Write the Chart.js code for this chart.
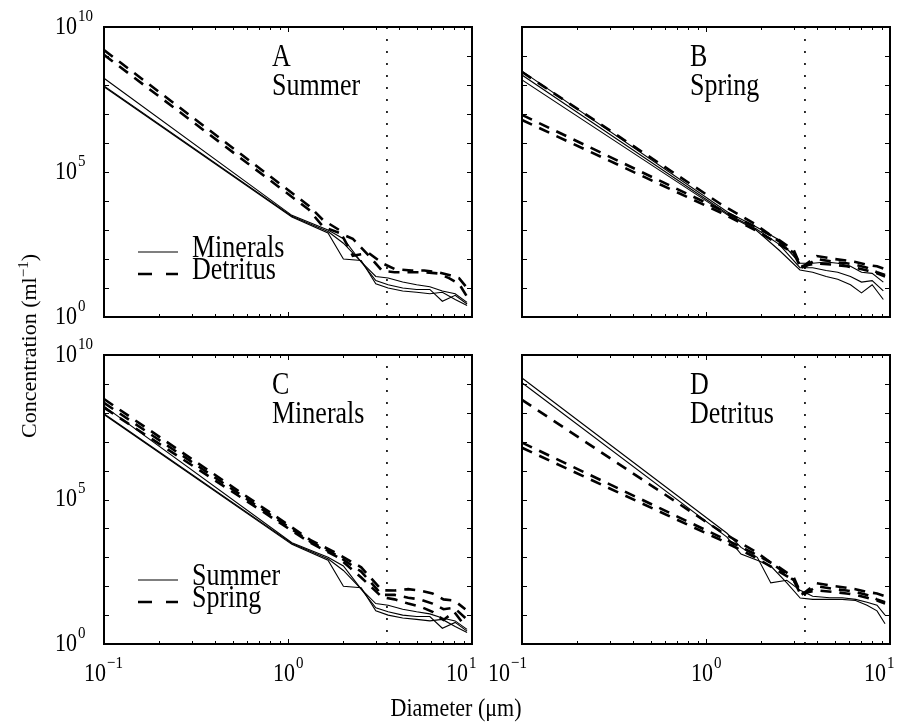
<!DOCTYPE html>
<html lang="en">
<head>
<meta charset="utf-8" />
<title>Particle size spectra</title>
<script src="https://cdn.jsdelivr.net/npm/chart.js@4.4.1/dist/chart.umd.min.js"></script>
<style>
  body { margin: 0; background: #fff; }
  #figure { position: relative; width: 910px; height: 725px; overflow: hidden; }
  #figure canvas { position: absolute; left: 0; top: 0; }
  .axis-title { position: absolute; font-family: "Liberation Serif", serif; font-size: 22px; line-height: 22px; color: #000; white-space: nowrap; }
  .axis-title sup { font-size: 15px; line-height: 0; }
  #yTitle { left: 29px; top: 346px; transform: translate(-50%, -50%) rotate(-90deg); }
  #xTitle { left: 456px; top: 708px; transform: translate(-50%, -50%) scaleY(1.18); }
</style>
</head>
<body>
<div id="figure">
  <canvas id="panelA" width="910" height="725"></canvas>
  <canvas id="panelB" width="910" height="725"></canvas>
  <canvas id="panelC" width="910" height="725"></canvas>
  <canvas id="panelD" width="910" height="725"></canvas>
  <div class="axis-title" id="yTitle">Concentration (ml<sup>&minus;1</sup>)</div>
  <div class="axis-title" id="xTitle">Diameter (&mu;m)</div>
</div>
<script>
// Diameters in µm; the first point of each group is the fitted power law at 0.1 µm.
const SUMMER_MIN_DIAM = [0.1, 1.05, 1.65, 2.0, 2.5, 3.0, 3.5, 4.2, 5.0, 5.9, 6.9, 8.1, 9.4];
const SUMMER_MIN_1 = [1.7e8, 3.2e3, 1.0e3, 5.0e2, 79, 25, 22, 16, 13, 11, 7.9, 6.3, 3.2];
const SUMMER_MIN_2 = [9.3e7, 3.0e3, 8.9e2, 3.5e2, 79, 18, 13, 10, 8.9, 8.9, 3.5, 5.6, 2.8];
const SUMMER_MIN_3 = [8.7e7, 2.8e3, 7.9e2, 1.0e2, 89, 14, 10, 7.9, 7.1, 6.3, 7.1, 4.0, 2.5];

const SUMMER_DET_DIAM = [0.1, 1.3, 1.55, 1.9, 2.25, 2.75, 3.25, 3.8, 4.7, 5.5, 6.5, 7.5, 8.5, 9.4];
const SUMMER_DET_1 = [1.6e9, 6.8e3, 2.2e3, 1.0e3, 1.3e2, 1.6e2, 72, 45, 40, 40, 35, 28, 22, 10];
const SUMMER_DET_2 = [1.1e9, 5.0e3, 1.3e3, 7.9e2, 5.0e2, 1.3e2, 39, 35, 35, 35, 32, 22, 14, 5.0];

const SPRING_MIN_DIAM = [0.1, 1.32, 1.87, 2.5, 3.24, 3.8, 4.5, 5.2, 6.1, 7.0, 8.0, 9.2];
const SPRING_MIN_1 = [3.0e8, 4.0e3, 1.3e3, 4.5e2, 72, 71, 79, 71, 56, 35, 32, 16];
const SPRING_MIN_2 = [2.2e8, 3.5e3, 1.1e3, 3.2e2, 50, 50, 40, 35, 25, 16, 18, 7.9];
const SPRING_MIN_3 = [1.5e8, 3.2e3, 1.0e3, 2.0e2, 42, 35, 25, 20, 13, 6.8, 13, 4.0];

const SPRING_DET_DIAM = [0.1, 1.2, 1.85, 2.5, 3.0, 3.3, 4.0, 5.0, 5.8, 6.5, 7.5, 8.5, 9.4];
const SPRING_DET_1 = [2.8e8, 7.9e3, 1.6e3, 4.0e2, 1.6e2, 56, 71, 63, 56, 50, 40, 32, 25];
const SPRING_DET_2 = [9.3e6, 5.0e3, 1.3e3, 4.5e2, 2.0e2, 50, 126, 100, 89, 79, 63, 56, 45];
const SPRING_DET_3 = [6.2e6, 4.0e3, 1.0e3, 3.2e2, 1.6e2, 45, 100, 79, 71, 63, 50, 35, 28];

// Size limit marked by the dotted line.
const DIVIDER_DIAM = 3.45;

const X_MIN = 0.1;
const X_MAX = 10;
const Y_MIN = 1;
const Y_MAX = 1e10;
const X_TICKS = [0.1, 1, 10];
const X_TICK_EXPONENTS = ["\u22121", "0", "1"];
const Y_TICKS = [1, 1e5, 1e10];
const Y_TICK_EXPONENTS = ["0", "5", "10"];

const FONT = '"Liberation Serif", "Times New Roman", serif';
const TEXT_STRETCH = 1.18;

const summerMinerals = { diam: SUMMER_MIN_DIAM, series: [SUMMER_MIN_1, SUMMER_MIN_2, SUMMER_MIN_3] };
const summerDetritus = { diam: SUMMER_DET_DIAM, series: [SUMMER_DET_1, SUMMER_DET_2] };
const springMinerals = { diam: SPRING_MIN_DIAM, series: [SPRING_MIN_1, SPRING_MIN_2, SPRING_MIN_3] };
const springDetritus = { diam: SPRING_DET_DIAM, series: [SPRING_DET_1, SPRING_DET_2, SPRING_DET_3] };

// xNudge: horizontal shift (px) of each bottom tick label
const panels = [
  { id: "panelA", box: [104, 27, 472, 317], tag: "A", name: "Summer", solid: summerMinerals, dashed: summerDetritus, legend: ["Minerals", "Detritus"], yLabels: true },
  { id: "panelB", box: [522, 27, 890, 317], tag: "B", name: "Spring", solid: springMinerals, dashed: springDetritus },
  { id: "panelC", box: [104, 355, 472, 644], tag: "C", name: "Minerals", solid: summerMinerals, dashed: springMinerals, legend: ["Summer", "Spring"], yLabels: true, xNudge: [0, 5, -6] },
  { id: "panelD", box: [522, 355, 890, 644], tag: "D", name: "Detritus", solid: summerDetritus, dashed: springDetritus, xNudge: [-14, 5, -6] },
];

const SOLID = { borderColor: "#000", borderWidth: 1.1, pointRadius: 0, tension: 0, fill: false };
const DASHED = { ...SOLID, borderWidth: 2.6, borderDash: [11, 8] };
const DOTTED = { ...SOLID, borderWidth: 1.6, borderDash: [2, 10] };

function lineSets(group, style) {
  return group.series.map((values) => ({
    data: group.diam.map((d, i) => ({ x: d, y: values[i] })),
    ...style,
  }));
}

function stretchedText(ctx, text, x, y, size, align) {
  ctx.save();
  ctx.translate(x, y);
  ctx.scale(1, TEXT_STRETCH);
  ctx.font = `${size}px ${FONT}`;
  ctx.textAlign = align;
  ctx.textBaseline = "middle";
  ctx.fillText(text, 0, 0);
  ctx.restore();
}

// "10" with a raised exponent; anchor is the right edge of the base
function powerLabel(ctx, exponent, x, y) {
  stretchedText(ctx, "10", x, y, 22, "right");
  stretchedText(ctx, exponent, x + 1, y - 11, 15, "left");
}

const framePlugin = {
  id: "frame",
  afterDraw(chart, args, opts) {
    const panel = opts.panel;
    const { ctx, chartArea: a } = chart;
    const xs = chart.scales.x;
    const ys = chart.scales.y;
    ctx.save();
    ctx.strokeStyle = "#000";
    ctx.fillStyle = "#000";

    // inward tick marks on all four sides
    ctx.lineWidth = 1;
    ctx.beginPath();
    [0.1, 1].forEach((decade) => {
      for (let k = 1; k <= 9; k++) {
        const px = Math.round(xs.getPixelForValue(decade * k)) + 0.5;
        const len = k === 1 ? 5 : 3;
        ctx.moveTo(px, a.bottom); ctx.lineTo(px, a.bottom - len);
        ctx.moveTo(px, a.top); ctx.lineTo(px, a.top + len);
      }
    });
    for (let e = 0; e <= 10; e++) {
      const py = Math.round(ys.getPixelForValue(Math.pow(10, e))) + 0.5;
      ctx.moveTo(a.left, py); ctx.lineTo(a.left + 5, py);
      ctx.moveTo(a.right, py); ctx.lineTo(a.right - 5, py);
    }
    ctx.stroke();

    ctx.lineWidth = 2;
    ctx.strokeRect(a.left, a.top, a.right - a.left, a.bottom - a.top);

    if (panel.yLabels) {
      Y_TICKS.forEach((v, i) => powerLabel(ctx, Y_TICK_EXPONENTS[i], a.left - 27, ys.getPixelForValue(v)));
    }
    if (panel.xNudge) {
      X_TICKS.forEach((v, i) => powerLabel(ctx, X_TICK_EXPONENTS[i], xs.getPixelForValue(v) + 2 + panel.xNudge[i], a.bottom + 30));
    }

    stretchedText(ctx, panel.tag, a.left + 168, a.top + 31, 26, "left");
    stretchedText(ctx, panel.name, a.left + 168, a.top + 60, 26, "left");

    if (panel.legend) {
      const lx = a.left + 34;
      const ly = a.top + 225;
      ctx.lineWidth = SOLID.borderWidth;
      ctx.beginPath();
      ctx.moveTo(lx, ly); ctx.lineTo(lx + 40, ly);
      ctx.stroke();
      ctx.lineWidth = DASHED.borderWidth;
      ctx.setLineDash([14, 14]);
      ctx.beginPath();
      ctx.moveTo(lx, ly + 22); ctx.lineTo(lx + 40, ly + 22);
      ctx.stroke();
      ctx.setLineDash([]);
      stretchedText(ctx, panel.legend[0], lx + 54, ly - 3, 26, "left");
      stretchedText(ctx, panel.legend[1], lx + 54, ly + 19, 26, "left");
    }
    ctx.restore();
  },
};

panels.forEach((panel) => {
  const [left, top, right, bottom] = panel.box;
  new Chart(document.getElementById(panel.id), {
    type: "line",
    data: {
      datasets: [
        ...lineSets(panel.solid, SOLID),
        ...lineSets(panel.dashed, DASHED),
        { data: [{ x: DIVIDER_DIAM, y: Y_MIN }, { x: DIVIDER_DIAM, y: Y_MAX }], ...DOTTED },
      ],
    },
    options: {
      responsive: false,
      animation: false,
      events: [],
      layout: { padding: { left, top, right: 910 - right, bottom: 725 - bottom } },
      plugins: { legend: { display: false }, tooltip: { enabled: false }, frame: { panel } },
      scales: {
        x: { type: "logarithmic", min: X_MIN, max: X_MAX, display: false },
        y: { type: "logarithmic", min: Y_MIN, max: Y_MAX, display: false },
      },
    },
    plugins: [framePlugin],
  });
});
</script>
</body>
</html>
